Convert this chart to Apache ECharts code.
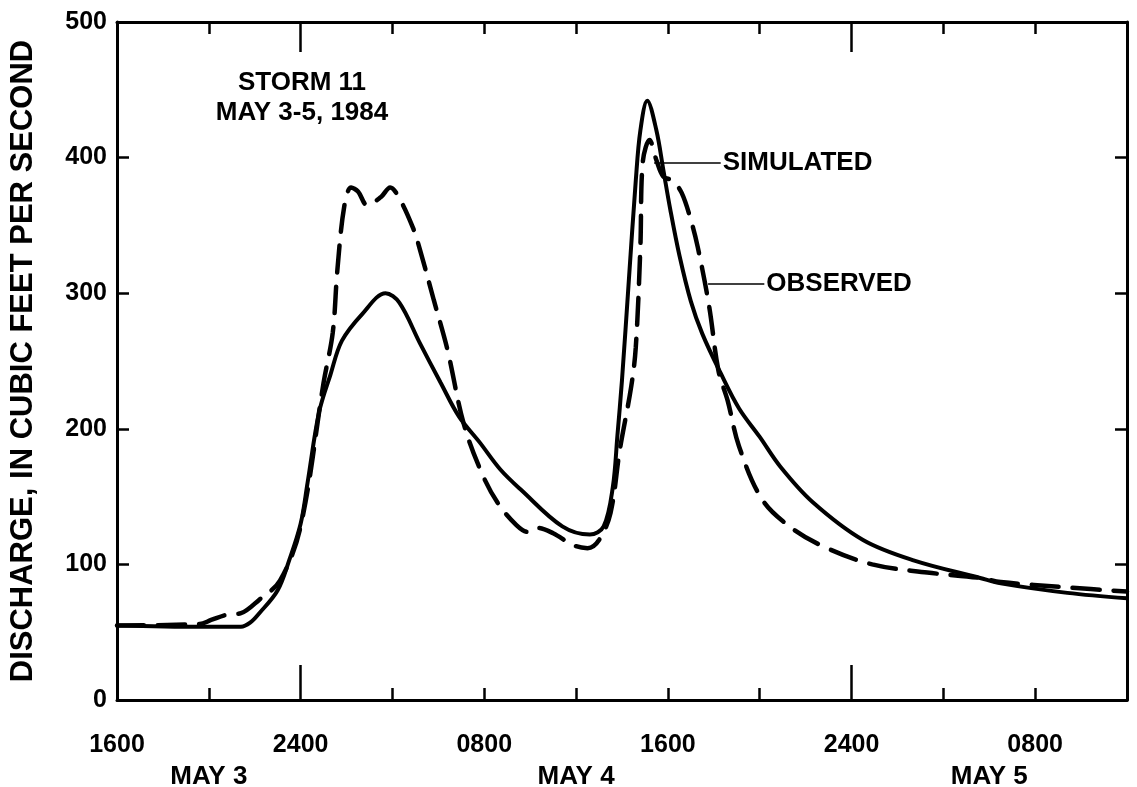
<!DOCTYPE html>
<html>
<head>
<meta charset="utf-8">
<script src="https://cdn.jsdelivr.net/npm/echarts@6/dist/echarts.min.js"></script>
<style>
  html, body { margin: 0; padding: 0; background: #fff; }
  #chart { width: 1137px; height: 787px; }
</style>
</head>
<body>
<div id="chart"></div>
<script>
// hours since 1600 on May 3
const simHours = [0, 3.6, 5.4, 5.8, 6.2, 7.0, 7.5, 8.0, 8.3, 8.8, 9.3, 9.8, 10.7, 11.7, 12.3, 13.2, 14.1, 14.9, 15.8, 16.7, 17.6, 19.4, 20.6, 21.2, 21.6, 21.8, 22.0, 22.3, 22.6, 22.8, 23.1, 23.5, 23.8, 24.1, 24.5, 25.0, 25.5, 26.3, 27.1, 28.0, 28.9, 30.3, 32.5, 34.7, 37.6, 38.5, 41.4, 44.0]
const simValues = [55, 54, 54, 57, 64, 81, 103, 130, 160, 212, 240, 265, 285, 300, 293, 263, 234, 209, 190, 170, 155, 128, 122, 128, 157, 195, 236, 310, 383, 420, 442, 420, 391, 362, 328, 294, 270, 241, 215, 194, 172, 146, 118, 103, 90, 86, 79, 75]

const obsHours = [0, 3.6, 4.1, 4.8, 5.4, 6.2, 7.1, 8.0, 9.0, 9.4, 9.6, 9.9, 10.2, 10.5, 10.9, 11.5, 11.9, 12.3, 12.9, 13.2, 13.8, 14.4, 15.1, 15.9, 16.6, 17.4, 17.9, 18.3, 19.0, 19.9, 20.5, 21.0, 21.5, 21.9, 22.4, 22.6, 22.8, 22.9, 23.2, 23.5, 23.8, 24.2, 24.6, 25.0, 25.3, 25.8, 26.2, 26.6, 27.1, 28.1, 29.3, 30.8, 32.9, 35.3, 37.6, 38.5, 41.4, 44.0]
const obsValues = [55, 56, 59, 63, 64, 74, 88, 128, 234, 271, 317, 364, 378, 375, 365, 371, 378, 370, 348, 332, 295, 258, 204, 167, 145, 129, 124, 127, 123, 114, 112, 118, 138, 184, 231, 260, 334, 396, 413, 398, 386, 383, 374, 354, 334, 290, 243, 221, 187, 148, 128, 113, 100, 94, 90, 87, 83, 80]

const xTickHours = [0, 8, 16, 24, 32, 40]
const xTickLabels = ['1600', '2400', '0800', '1600', '2400', '0800']
const midnightHours = [8, 32]
const dateHours = [4, 20, 38]
const dateLabels = ['MAY 3', 'MAY 4', 'MAY 5']

const FONT = '"Liberation Sans", Arial, sans-serif'
const black = '#000'

const chart = echarts.init(document.getElementById('chart'))

const zip = (xs, ys) => xs.map((x, i) => [x, ys[i]])

const baseX = {
  type: 'value',
  min: 0,
  max: 44,
  interval: 4,
  splitLine: { show: false }
}

const baseY = {
  type: 'value',
  min: 0,
  max: 500,
  interval: 100,
  splitLine: { show: false },
  axisLine: { show: true, onZero: false, lineStyle: { color: black, width: 3 } },
  axisTick: { show: true, inside: true, length: 12, lineStyle: { color: black, width: 2.5 } }
}

const wordLabel = {
  color: black,
  fontFamily: FONT,
  fontWeight: 'bold',
  fontSize: 26
}

const option = {
  backgroundColor: '#fff',
  animation: false,
  grid: { left: 117, right: 10, top: 22, bottom: 87, containLabel: false, outerBoundsMode: 'none' },
  graphic: [
    {
      type: 'text',
      x: 302,
      y: 68,
      style: {
        text: 'STORM 11\nMAY 3-5, 1984',
        font: 'bold 26px ' + FONT,
        fill: black,
        align: 'center',
        lineHeight: 30
      }
    }
  ],
  xAxis: [
    {
      ...baseX,
      position: 'bottom',
      axisLine: { onZero: false, lineStyle: { color: black, width: 3 } },
      axisTick: { inside: true, length: 12, lineStyle: { color: black, width: 2.5 } },
      axisLabel: {
        customValues: xTickHours,
        formatter: v => xTickLabels[xTickHours.indexOf(v)],
        margin: 33,
        color: black,
        fontFamily: FONT,
        fontWeight: 'bold',
        fontSize: 25
      }
    },
    {
      ...baseX,
      position: 'bottom',
      axisLine: { show: false, onZero: false },
      axisTick: { inside: true, length: 35, customValues: midnightHours, lineStyle: { color: black, width: 2.5 } },
      axisLabel: { show: false }
    },
    {
      ...baseX,
      position: 'bottom',
      axisLine: { show: false, onZero: false },
      axisTick: { show: false },
      axisLabel: {
        ...wordLabel,
        customValues: dateHours,
        formatter: v => dateLabels[dateHours.indexOf(v)],
        margin: 64
      }
    },
    {
      ...baseX,
      position: 'top',
      axisLine: { onZero: false, lineStyle: { color: black, width: 3 } },
      axisTick: { inside: true, length: 12, lineStyle: { color: black, width: 2.5 } },
      axisLabel: { show: false }
    },
    {
      ...baseX,
      position: 'top',
      axisLine: { show: false, onZero: false },
      axisTick: { inside: true, length: 30, customValues: midnightHours, lineStyle: { color: black, width: 2.5 } },
      axisLabel: { show: false }
    }
  ],
  yAxis: [
    {
      ...baseY,
      position: 'left',
      name: 'DISCHARGE, IN CUBIC FEET PER SECOND',
      nameLocation: 'middle',
      nameGap: 78,
      nameTextStyle: { ...wordLabel, fontSize: 31 },
      axisLabel: {
        margin: 10,
        color: black,
        fontFamily: FONT,
        fontWeight: 'bold',
        fontSize: 25
      }
    },
    {
      ...baseY,
      position: 'right',
      axisLabel: { show: false }
    }
  ],
  series: [
    {
      name: 'SIMULATED',
      type: 'line',
      data: zip(simHours, simValues),
      smooth: 0.35,
      showSymbol: false,
      lineStyle: { color: black, width: 4 },
      markLine: {
        silent: true,
        symbol: 'none',
        lineStyle: { color: black, width: 1.5, type: 'solid' },
        label: { ...wordLabel, position: 'end', distance: 2, formatter: 'SIMULATED' },
        data: [[{ coord: [23.4, 396] }, { coord: [26.3, 396] }]]
      }
    },
    {
      name: 'OBSERVED',
      type: 'line',
      data: zip(obsHours, obsValues),
      smooth: 0.35,
      showSymbol: false,
      lineStyle: { color: black, width: 4.5, type: [27, 14], cap: 'round' },
      markLine: {
        silent: true,
        symbol: 'none',
        lineStyle: { color: black, width: 1.5, type: 'solid' },
        label: { ...wordLabel, position: 'end', distance: 2, formatter: 'OBSERVED' },
        data: [[{ coord: [25.75, 307] }, { coord: [28.2, 307] }]]
      }
    }
  ]
}

chart.setOption(option)
</script>
</body>
</html>
